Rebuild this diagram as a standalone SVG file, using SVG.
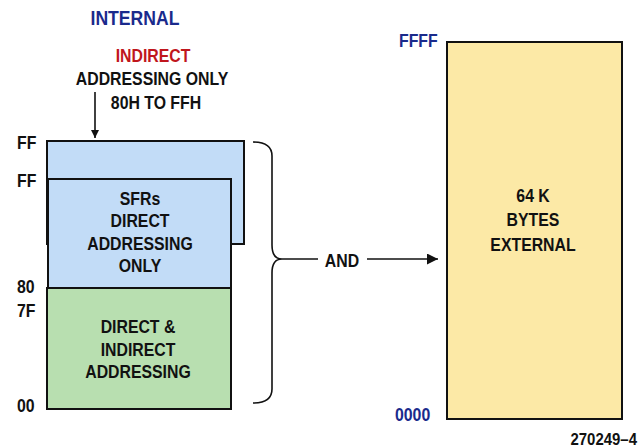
<svg xmlns="http://www.w3.org/2000/svg" width="638" height="447" viewBox="0 0 638 447">
  <style>
    text { font-family: "Liberation Sans", Arial, sans-serif; font-weight: bold; font-size: 18px; fill: #111;
           transform-box: fill-box; transform: scaleX(0.88); transform-origin: left center; }
    .c { text-anchor: middle; transform-origin: center center; }
    .r { text-anchor: end; transform-origin: right center; }
    .blue { fill: #1a2a8c; }
    .red { fill: #c0161c; }
    .box { stroke: #111; stroke-width: 2; }
    .ln { stroke: #111; stroke-width: 1.6; fill: none; }
  </style>
  <defs>
    <marker id="arrow" viewBox="0 0 10 10" refX="10" refY="5" markerWidth="8" markerHeight="9" markerUnits="userSpaceOnUse" orient="auto">
      <path d="M0,0 L10,5 L0,10 z" fill="#111"/>
    </marker>
    <marker id="arrowL" viewBox="0 0 10 10" refX="10" refY="5" markerWidth="16" markerHeight="11" markerUnits="userSpaceOnUse" orient="auto">
      <path d="M0,0 L10,5 L0,10 z" fill="#111"/>
    </marker>
  </defs>
  <rect width="638" height="447" fill="#ffffff"/>

  <text class="c blue" x="135" y="25" style="font-size:20px">INTERNAL</text>

  <g id="indirect-note">
    <text class="c red" x="153" y="62">INDIRECT</text>
    <text class="c" x="152" y="85">ADDRESSING ONLY</text>
    <text class="c" x="156" y="109">80H TO FFH</text>
  </g>

  <g id="upper-indirect">
    <rect class="box" x="47" y="141" width="197" height="103" fill="#c2dcf7"/>
  </g>

  <g id="sfrs">
    <rect class="box" x="48" y="179" width="183" height="109" fill="#c2dcf7"/>
    <text class="c" x="140" y="205">SFRs</text>
    <text class="c" x="140" y="227">DIRECT</text>
    <text class="c" x="140" y="250">ADDRESSING</text>
    <text class="c" x="140" y="272">ONLY</text>
  </g>

  <g id="lower-ram">
    <rect class="box" x="47" y="288" width="184" height="121" fill="#b8dfb0"/>
    <text class="c" x="138" y="333">DIRECT &amp;</text>
    <text class="c" x="138" y="356">INDIRECT</text>
    <text class="c" x="138" y="378">ADDRESSING</text>
  </g>

  <g id="internal-addresses">
    <text x="17" y="149">FF</text>
    <text x="17" y="187">FF</text>
    <text x="17" y="293">80</text>
    <text x="17" y="317">7F</text>
    <text x="17" y="412">00</text>
  </g>

  <g id="external">
    <rect class="box" x="447" y="42" width="175" height="377" fill="#fce9a6"/>
    <text class="c" x="533" y="202">64 K</text>
    <text class="c" x="533" y="226">BYTES</text>
    <text class="c" x="533" y="251">EXTERNAL</text>
    <text class="blue" x="399" y="47">FFFF</text>
    <text class="blue" x="395" y="421">0000</text>
  </g>

  <g id="connectors">
    <line class="ln" x1="95" y1="92" x2="95" y2="138" marker-end="url(#arrow)"/>
    <path class="ln" d="M253,142 Q272,142 272,156 L272,245 Q272,259 282,259 Q272,259 272,273 L272,389 Q272,403 253,403"/>
    <line class="ln" x1="282" y1="259" x2="318" y2="259"/>
    <text class="c" x="342" y="267">AND</text>
    <line class="ln" x1="367" y1="259" x2="438" y2="259" marker-end="url(#arrowL)"/>
  </g>

  <text class="r" x="637" y="445" style="font-size:17px">270249–4</text>
</svg>
